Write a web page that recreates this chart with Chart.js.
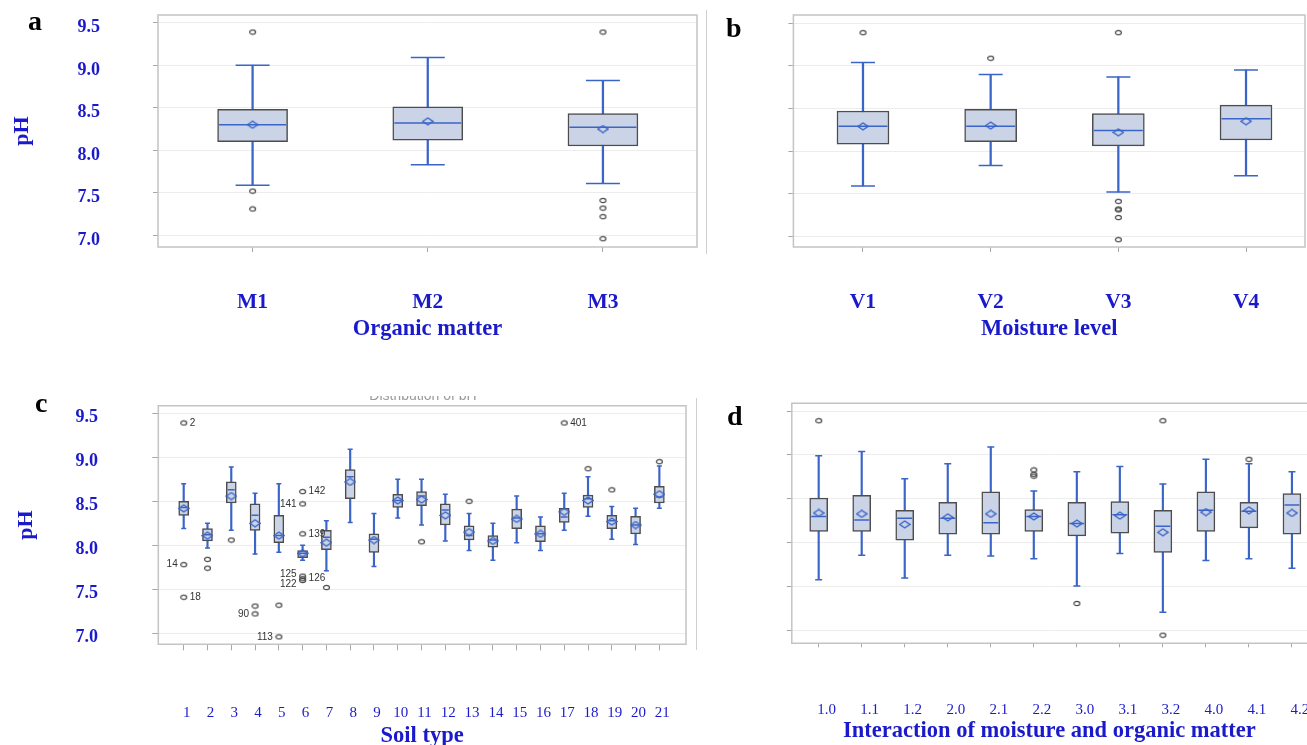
<!DOCTYPE html>
<html><head><meta charset="utf-8">
<script src="https://cdn.jsdelivr.net/npm/chart.js@4.4.1/dist/chart.umd.min.js"></script>
<style>
html,body{margin:0;padding:0;background:#fff;width:1307px;height:745px;overflow:hidden;}
.pane{position:absolute;}
.letter{position:absolute;font-family:'Liberation Serif','Times New Roman',serif;font-weight:bold;font-size:28px;line-height:1;color:#000;}
.vsep{position:absolute;width:1px;background:#d0d0d0;}
#ghost{position:absolute;left:303px;top:396px;width:240px;height:4px;overflow:hidden;text-align:center;}
#ghost div{margin-top:-8px;font:14px 'Liberation Sans',sans-serif;line-height:14px;color:#9a9a9a;}
</style></head>
<body>
<div class="pane" style="left:0;top:0;width:700px;height:345px"><canvas id="ca"></canvas></div>
<div class="pane" style="left:700px;top:0;width:607px;height:345px"><canvas id="cb"></canvas></div>
<div class="pane" style="left:0;top:392px;width:700px;height:353px"><canvas id="cc"></canvas></div>
<div class="pane" style="left:700px;top:392px;width:607px;height:353px"><canvas id="cd"></canvas></div>
<div class="vsep" style="left:706px;top:10px;height:244px"></div>
<div class="vsep" style="left:696px;top:398px;height:252px"></div>
<div id="ghost"><div>Distribution of pH</div></div>
<div class="letter" style="left:28px;top:7px">a</div>
<div class="letter" style="left:726px;top:14px">b</div>
<div class="letter" style="left:35px;top:389px">c</div>
<div class="letter" style="left:727px;top:402px">d</div>
<script>
// ---------------- data ----------------
const yTickValues = [7.0, 7.5, 8.0, 8.5, 9.0, 9.5];

// a: organic matter
const aCats = ['M1', 'M2', 'M3'];
const aMin  = [7.59, 7.83, 7.61];
const aQ1   = [8.10, 8.12, 8.05];
const aMed  = [8.30, 8.32, 8.27];
const aQ3   = [8.48, 8.51, 8.43];
const aMax  = [9.00, 9.09, 8.82];
const aMean = [8.30, 8.34, 8.25];
const aOut  = [[9.39, 7.52, 7.31], [], [9.39, 7.41, 7.32, 7.22, 6.96]];

// b: moisture level
const bCats = ['V1', 'V2', 'V3', 'V4'];
const bMin  = [7.59, 7.83, 7.52, 7.71];
const bQ1   = [8.08, 8.11, 8.06, 8.13];
const bMed  = [8.29, 8.29, 8.24, 8.38];
const bQ3   = [8.47, 8.49, 8.44, 8.54];
const bMax  = [9.04, 8.90, 8.87, 8.95];
const bMean = [8.29, 8.30, 8.22, 8.35];
const bOut  = [[9.39], [9.09], [9.39, 7.41, 7.32, 7.31, 7.22, 6.96], []];

// c: soil type
const cCats = ['1','2','3','4','5','6','7','8','9','10','11','12','13','14','15','16','17','18','19','20','21'];
const cMin  = [8.19, 7.97, 8.17, 7.90, 7.92, 7.83, 7.71, 8.26, 7.76, 8.31, 8.23, 8.05, 7.94, 7.83, 8.03, 7.94, 8.17, 8.33, 8.07, 8.01, 8.42];
const cQ1   = [8.34, 8.05, 8.48, 8.17, 8.03, 7.86, 7.95, 8.53, 7.92, 8.43, 8.45, 8.23, 8.06, 7.98, 8.19, 8.04, 8.26, 8.43, 8.19, 8.13, 8.48];
const cMed  = [8.43, 8.12, 8.63, 8.34, 8.11, 7.91, 8.09, 8.78, 8.07, 8.51, 8.56, 8.40, 8.11, 8.06, 8.31, 8.13, 8.32, 8.53, 8.28, 8.23, 8.55];
const cQ3   = [8.50, 8.19, 8.72, 8.47, 8.34, 7.94, 8.17, 8.86, 8.13, 8.58, 8.61, 8.47, 8.22, 8.11, 8.41, 8.22, 8.42, 8.57, 8.34, 8.33, 8.67];
const cMax  = [8.70, 8.25, 8.89, 8.59, 8.70, 8.00, 8.28, 9.09, 8.36, 8.75, 8.75, 8.58, 8.36, 8.25, 8.56, 8.32, 8.59, 8.78, 8.44, 8.42, 8.90];
const cMean = [8.42, 8.11, 8.56, 8.25, 8.11, 7.91, 8.03, 8.72, 8.06, 8.51, 8.52, 8.34, 8.15, 8.05, 8.30, 8.13, 8.38, 8.51, 8.27, 8.23, 8.58];
const cOut  = [[9.39, 7.78, 7.41], [7.84, 7.74], [8.06], [7.31, 7.22], [7.32, 6.96],
               [8.61, 8.47, 8.13, 7.65, 7.62, 7.60], [7.52], [], [], [], [8.04], [], [8.50], [], [], [],
               [9.39], [8.87], [8.63], [], [8.95]];
const cOutIds = [['2', '14', '18'], ['', ''], [''], ['', '90'], ['', '113'],
               ['142', '141', '139', '125', '126', '122'], [''], [], [], [], [''], [], [''], [], [], [],
               ['401'], [''], [''], [], ['']];

// d: interaction of moisture and organic matter
const dCats = ['1.0','1.1','1.2','2.0','2.1','2.2','3.0','3.1','3.2','4.0','4.1','4.2'];
const dMin  = [7.58, 7.86, 7.60, 7.86, 7.85, 7.82, 7.51, 7.88, 7.21, 7.80, 7.82, 7.71];
const dQ1   = [8.13, 8.13, 8.03, 8.10, 8.10, 8.13, 8.08, 8.11, 7.89, 8.13, 8.17, 8.10];
const dMed  = [8.30, 8.26, 8.28, 8.28, 8.23, 8.30, 8.22, 8.32, 8.19, 8.37, 8.36, 8.43];
const dQ3   = [8.51, 8.54, 8.37, 8.46, 8.58, 8.38, 8.46, 8.47, 8.37, 8.58, 8.46, 8.56];
const dMax  = [8.99, 9.04, 8.73, 8.90, 9.09, 8.59, 8.81, 8.87, 8.67, 8.95, 8.90, 8.81];
const dMean = [8.34, 8.33, 8.21, 8.29, 8.33, 8.30, 8.22, 8.31, 8.12, 8.35, 8.37, 8.34];
const dOut  = [[9.39], [], [], [], [], [8.83, 8.78, 8.76], [7.31], [], [9.39, 6.95], [], [8.95], []];

// ---------------- styling ----------------
const SERIF = "'Liberation Serif', 'Times New Roman', serif";
const BLUE_TXT = '#1a1acc';
const WHISK = '#3b64c8';
const BOXFILL = '#cad4e6';
const BOXLINE = '#4d4d4d';

function makeDiamond() {
  const c = document.createElement('canvas'); c.width = 12; c.height = 9;
  const g = c.getContext('2d'); g.strokeStyle = WHISK; g.lineWidth = 1.4;
  g.beginPath(); g.moveTo(1, 4.5); g.lineTo(6, 1); g.lineTo(11, 4.5); g.lineTo(6, 8); g.closePath(); g.stroke();
  return c;
}
function makeRing() {
  const c = document.createElement('canvas'); c.width = 9; c.height = 7;
  const g = c.getContext('2d'); g.strokeStyle = '#4a4a4a'; g.lineWidth = 1.2;
  g.beginPath(); g.ellipse(4.5, 3.5, 3, 2.1, 0, 0, Math.PI * 2); g.stroke();
  return c;
}
const DIAMOND = makeDiamond();
const RING = makeRing();

function boxSets(s, st) {
  const xs = s.cats.map((c, i) => i + 1);
  return [
    {type: 'bar', data: xs.map((x, i) => ({x, y: [s.min[i], s.max[i]]})), barThickness: st.whisk,
     backgroundColor: WHISK, borderWidth: 0, grouped: false, order: 6},
    {type: 'line', showLine: false, data: xs.flatMap((x, i) => [{x, y: s.min[i]}, {x, y: s.max[i]}]),
     pointStyle: 'line', pointRadius: st.cap, pointHoverRadius: st.cap, pointBorderColor: WHISK,
     pointBorderWidth: 1.5, order: 5},
    {type: 'bar', data: xs.map((x, i) => ({x, y: [s.q1[i], s.q3[i]]})), barThickness: st.box,
     backgroundColor: BOXFILL, borderColor: BOXLINE, borderWidth: 1.5, borderSkipped: false, grouped: false, order: 4},
    {type: 'line', showLine: false, data: xs.map((x, i) => ({x, y: s.med[i]})),
     pointStyle: 'line', pointRadius: st.box / 2 - 1.5, pointHoverRadius: st.box / 2 - 1.5,
     pointBorderColor: WHISK, pointBorderWidth: 1.5, order: 3},
    {type: 'line', showLine: false, data: xs.map((x, i) => ({x, y: s.mean[i]})),
     pointStyle: DIAMOND, pointRadius: 5, order: 2},
    {type: 'line', showLine: false,
     data: xs.flatMap((x, i) => s.out[i].map((v, j) => ({x, y: v, id: s.ids ? s.ids[i][j] : ''}))),
     pointStyle: RING, pointRadius: 4, order: 1}
  ];
}

const framePlugin = {
  id: 'frame',
  beforeDatasetsDraw(chart, args, opts) {
    const {ctx, chartArea: a} = chart;
    ctx.save(); ctx.strokeStyle = '#c4c4c4'; ctx.lineWidth = 1.5;
    ctx.beginPath();
    if (opts.noRight) {
      ctx.moveTo(a.right + 2, a.top); ctx.lineTo(a.left, a.top); ctx.lineTo(a.left, a.bottom); ctx.lineTo(a.right + 2, a.bottom);
    } else {
      ctx.rect(a.left, a.top, a.right - a.left, a.bottom - a.top);
    }
    ctx.stroke(); ctx.restore();
  }
};
const labelPlugin = {
  id: 'outlierLabels',
  afterDatasetsDraw(chart, args, opts) {
    if (!opts.show) return;
    const ds = chart.data.datasets; const idx = ds.length - 1;
    const meta = chart.getDatasetMeta(idx); const ctx = chart.ctx;
    const leftIds = opts.leftIds || [];
    const shift = opts.shift || {};
    ctx.save(); ctx.font = "10px 'Liberation Sans', Arial, sans-serif"; ctx.fillStyle = '#333'; ctx.textBaseline = 'middle';
    meta.data.forEach((pt, k) => {
      const id = ds[idx].data[k].id; if (!id) return;
      const left = leftIds.includes(id);
      ctx.textAlign = left ? 'right' : 'left';
      ctx.fillText(id, pt.x + (left ? -6 : 6), pt.y + (shift[id] || 0));
    });
    ctx.restore();
  }
};

function makeChart(id, s, L) {
  const cats = s.cats;
  return new Chart(document.getElementById(id), {
    type: 'bar',
    data: {datasets: boxSets(s, L.st)},
    options: {
      responsive: true, maintainAspectRatio: false, animation: false, events: [],
      layout: {padding: L.pad, autoPadding: false},
      plugins: {legend: {display: false}, tooltip: {enabled: false}, title: {display: false},
        frame: {noRight: !!L.noRight},
        outlierLabels: {show: !!L.labels, leftIds: L.leftIds || [], shift: L.shift || {}}},
      scales: {
        x: {type: 'linear', min: L.xMin, max: L.xMax, offset: false, border: {display: false},
          grid: {drawOnChartArea: false, drawTicks: true, tickLength: L.xTick, tickColor: '#a8a8a8', offset: false},
          ticks: {color: BLUE_TXT, font: L.xFont, padding: L.xPad, labelOffset: L.xLabelOffset || 0,
            maxRotation: 0, minRotation: 0, autoSkip: false, callback: (v) => cats[Math.round(v) - 1]},
          afterBuildTicks: (sc) => { sc.ticks = cats.map((c, i) => ({value: i + 1})); },
          afterFit: (sc) => { sc.height = L.xH; sc.paddingLeft = 0; sc.paddingRight = 0; sc.paddingTop = 0; sc.paddingBottom = 0; },
          title: {display: true, text: L.xTitle, color: BLUE_TXT,
            font: {family: SERIF, size: 22.5, weight: 'bold', lineHeight: 1}, padding: {top: 0, bottom: L.xTitlePad}}
        },
        y: {type: 'linear', min: L.yMin, max: L.yMax, border: {display: false},
          grid: {color: '#ececec', lineWidth: 1, drawTicks: true, tickLength: L.yTick, tickColor: '#a8a8a8'},
          ticks: {display: !!L.yLabels, color: BLUE_TXT, font: {family: SERIF, size: 18, weight: 'bold'},
            padding: L.yPad || 0, labelOffset: L.yLabelOffset || 0, callback: (v) => v.toFixed(1)},
          afterBuildTicks: (sc) => { sc.ticks = yTickValues.map(v => ({value: v})); },
          afterFit: (sc) => { sc.width = L.yW; sc.paddingTop = 0; sc.paddingBottom = 0; sc.paddingLeft = 0; sc.paddingRight = 0; },
          title: {display: !!L.yLabels, text: 'pH', color: BLUE_TXT,
            font: {family: SERIF, size: 22, weight: 'bold', lineHeight: 1}, padding: {top: L.yTitlePad || 0, bottom: 0}}
        }
      }
    },
    plugins: [framePlugin, labelPlugin]
  });
}

const catFontBold = {family: SERIF, size: 21.5, weight: 'bold'};
const catFontReg = {family: SERIF, size: 15, weight: 'normal'};

makeChart('ca',
  {cats: aCats, min: aMin, q1: aQ1, med: aMed, q3: aQ3, max: aMax, mean: aMean, out: aOut},
  {st: {box: 70, cap: 17, whisk: 1.6}, pad: {top: 15, right: 3, left: 0, bottom: 0},
   xMin: 0.46, xMax: 3.537, yMin: 6.863, yMax: 9.590, yW: 158, xH: 98,
   xTick: 5, yTick: 5, xFont: catFontBold, xPad: 38, xTitle: 'Organic matter', xTitlePad: 4.75,
   yLabels: true, yPad: 53, yLabelOffset: 5, yTitlePad: 11.5});

makeChart('cb',
  {cats: bCats, min: bMin, q1: bQ1, med: bMed, q3: bQ3, max: bMax, mean: bMean, out: bOut},
  {st: {box: 52, cap: 12, whisk: 1.6}, pad: {top: 15, right: 2, left: 0, bottom: 0},
   xMin: 0.455, xMax: 4.462, yMin: 6.874, yMax: 9.597, yW: 93.4, xH: 98,
   xTick: 5, yTick: 5, xFont: catFontBold, xPad: 38, xTitle: 'Moisture level', xTitlePad: 4.75,
   yLabels: false});

makeChart('cc',
  {cats: cCats, min: cMin, q1: cQ1, med: cMed, q3: cQ3, max: cMax, mean: cMean, out: cOut, ids: cOutIds},
  {st: {box: 10, cap: 2.5, whisk: 1.5}, pad: {top: 13.7, right: 14, left: 0, bottom: 0},
   xMin: -0.068, xMax: 22.12, yMin: 6.875, yMax: 9.586, yW: 158.3, xH: 100.7,
   xTick: 6, yTick: 6, xFont: catFontReg, xPad: 53.4, xLabelOffset: 3, xTitle: 'Soil type', xTitlePad: -2.25,
   yLabels: true, yPad: 54.3, yLabelOffset: 4, yTitlePad: 15,
   labels: true, leftIds: ['14', '90', '113', '141', '125', '122'], shift: {'125': -2, '122': 4}});

makeChart('cd',
  {cats: dCats, min: dMin, q1: dQ1, med: dMed, q3: dQ3, max: dMax, mean: dMean, out: dOut},
  {st: {box: 18, cap: 3.5, whisk: 1.5}, pad: {top: 11.3, right: 0, left: 0, bottom: 0},
   xMin: 0.375, xMax: 12.35, yMin: 6.857, yMax: 9.588, yW: 91.8, xH: 101.7,
   xTick: 4, yTick: 5, xFont: catFontReg, xPad: 53.7, xLabelOffset: 8,
   xTitle: 'Interaction of moisture and organic matter', xTitlePad: 2.75,
   yLabels: false, noRight: true});
</script>
</body></html>
